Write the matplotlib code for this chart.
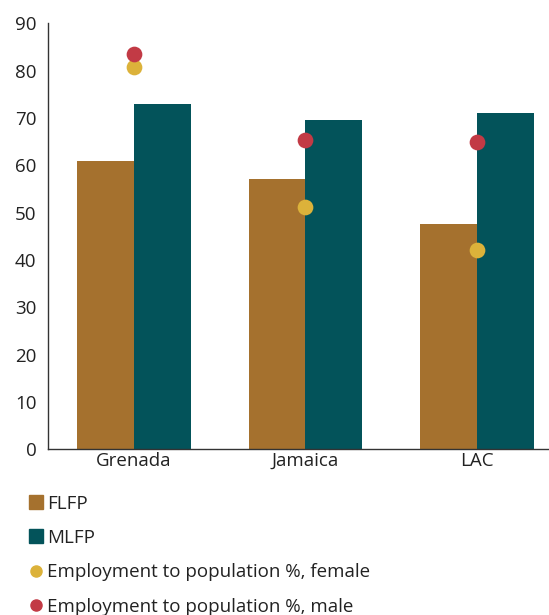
import numpy as np
import matplotlib.pyplot as plt
from matplotlib.lines import Line2D

plt.rcParams['font.family'] = ['Open Sans', 'DejaVu Sans']

countries = ["Grenada", "Jamaica", "LAC"]
flfp = [61.0, 57.0, 47.5]
mlfp = [72.9, 69.5, 71.1]
emp_female = [80.8, 51.1, 42.0]
emp_male = [83.5, 65.3, 64.9]
y_ticks = [0, 10, 20, 30, 40, 50, 60, 70, 80, 90]

BROWN = "#a5712e"
TEAL = "#03535a"
GOLD = "#dcb23a"
RED = "#c23a45"
TEXT = "#222222"

fig = plt.figure(figsize=(5.49, 6.15), dpi=100)
ax = fig.add_axes([0.0866, 0.2695, 0.9134, 0.6926])

x = np.arange(len(countries))
width = 0.332
ax.bar(x - width / 2, flfp, width, color=BROWN, label="FLFP")
ax.bar(x + width / 2, mlfp, width, color=TEAL, label="MLFP")
ax.scatter(x, emp_female, s=128, color=GOLD, zorder=3, linewidths=0)
ax.scatter(x, emp_male, s=128, color=RED, zorder=3, linewidths=0)

ax.set_xlim(-0.504, 2.42)
ax.set_ylim(0, 90)
ax.set_yticks(y_ticks)
ax.set_xticks(x)
ax.set_xticklabels(countries)
ax.tick_params(length=0, labelsize=13.5, colors=TEXT)
ax.tick_params(axis="y", pad=8)
ax.tick_params(axis="x", pad=2)
for side in ["top", "right"]:
    ax.spines[side].set_visible(False)
for side in ["left", "bottom"]:
    ax.spines[side].set_color("#333333")
    ax.spines[side].set_linewidth(1.0)

handles = [
    Line2D([], [], marker="s", linestyle="", markersize=10, color=BROWN),
    Line2D([], [], marker="s", linestyle="", markersize=10, color=TEAL),
    Line2D([], [], marker="o", linestyle="", markersize=8, color=GOLD),
    Line2D([], [], marker="o", linestyle="", markersize=8, color=RED),
]
labels = ["FLFP", "MLFP", "Employment to population %, female",
          "Employment to population %, male"]
fig.legend(handles, labels, loc="upper left", bbox_to_anchor=(0.0316, 0.211),
           frameon=False, fontsize=13.5, labelspacing=0.87,
           handletextpad=0.1, handlelength=1.0, borderpad=0,
           labelcolor=TEXT)

fig.savefig("out.png", dpi=100)
